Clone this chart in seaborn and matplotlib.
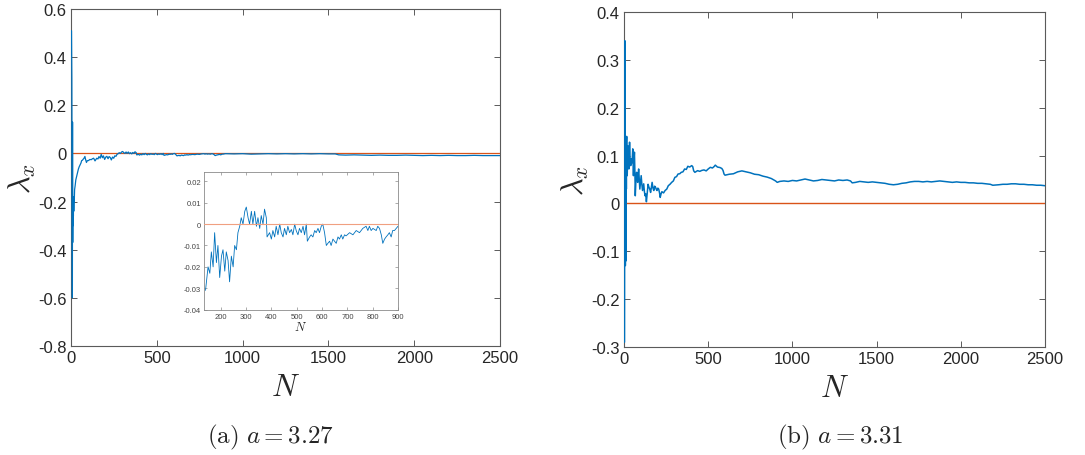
import numpy as np
import pandas as pd
import matplotlib
matplotlib.use("Agg")
import matplotlib.pyplot as plt
import seaborn as sns

# ---------------- data ----------------
# Panel (a): a = 3.27
n_a = [3, 5, 8, 9, 10, 11, 12, 13, 14, 15, 16, 17, 19, 21, 24, 28, 34, 38, 43, 48, 53, 58, 62, 67,
       71, 76, 81, 85, 90, 95, 100, 105, 110, 118, 125, 132,
       140, 150, 157, 163, 170, 176, 183, 189, 196, 203, 209, 216, 222, 229, 235, 242, 249,
       255, 262, 268, 275, 281, 288, 295, 301, 308, 314, 321, 327, 334, 341, 347, 354, 360,
       367, 373, 380, 383, 393, 400, 406, 413, 419, 426, 433, 439, 446, 452, 459, 465, 472,
       479, 485, 492, 498, 505, 511, 518, 525, 531, 538, 542, 551, 557, 564, 571, 577, 584,
       590, 597, 603, 610, 617, 623, 630, 636, 643, 656, 663, 669, 676, 682, 689, 695, 709,
       722, 735, 748, 761, 774, 781, 787, 794, 801, 814, 820, 827, 834, 840, 847, 853, 860,
       866, 873, 879, 886, 893, 900,
       950, 1000, 1050, 1100, 1150, 1200, 1250, 1300, 1350, 1400, 1450, 1500, 1540, 1560,
       1600, 1650, 1700, 1750, 1800, 1850, 1900, 1950, 2000, 2050, 2100, 2150, 2200, 2250,
       2300, 2350, 2400, 2450, 2500]
lam_a = [0.51, 0.31, -0.60, 0.13, -0.37, -0.20, -0.30, -0.22, -0.26, -0.19, -0.24, -0.18,
         -0.20, -0.15, -0.135, -0.11, -0.093, -0.08, -0.065, -0.055, -0.047, -0.040, -0.030,
         -0.028, -0.024, -0.020, -0.0125, -0.025, -0.0375, -0.030, -0.030, -0.028, -0.025,
         -0.026, -0.022, -0.020,
         -0.031, -0.020, -0.023, -0.013, -0.020, -0.004, -0.018, -0.010, -0.025, -0.015,
         -0.012, -0.022, -0.013, -0.017, -0.027, -0.015, -0.020, -0.010, -0.012, -0.004,
         -0.001, 0.003, 0.000, 0.006, 0.008, 0.003, 0.000, 0.006, 0.000, 0.006, -0.001,
         0.003, -0.002, 0.004, 0.000, 0.007, 0.003, -0.006, -0.004, -0.007, -0.003, -0.006,
         -0.001, -0.005, 0.000, -0.004, -0.006, -0.002, -0.005, -0.001, -0.004, -0.0025,
         -0.005, 0.000, -0.003, -0.005, -0.002, -0.004, -0.001, -0.005, 0.000, -0.008,
         -0.006, -0.005, -0.006, -0.003, -0.004, -0.002, -0.004, -0.001, 0.000, -0.004,
         -0.010, -0.009, -0.008, -0.010, -0.007, -0.009, -0.006, -0.007, -0.005, -0.007,
         -0.005, -0.0055, -0.004, -0.005, -0.003, -0.004, -0.002, -0.001, -0.003, -0.001,
         -0.003, -0.002, -0.003, -0.001, -0.002, -0.005, -0.009, -0.007, -0.006, -0.005,
         -0.004, -0.006, -0.003, -0.003, -0.002, -0.001,
         -0.002, -0.001, -0.003, -0.002, -0.001, -0.002, -0.001, -0.002, -0.001, -0.002,
         -0.001, -0.002, -0.002, -0.006, -0.007, -0.006, -0.007, -0.008, -0.007, -0.008,
         -0.008, -0.007, -0.008, -0.009, -0.008, -0.009, -0.008, -0.009, -0.009, -0.008,
         -0.009, -0.009, -0.009]

# Panel (b): a = 3.31
n_b = [3, 5, 8, 10, 11, 12, 13, 14, 15, 16, 17, 19, 22, 25, 29, 33, 36, 40, 44, 48, 52, 56, 59,
       62, 65, 67, 71, 75, 78, 81, 84, 87, 91, 94, 98, 102, 106, 110, 114, 117, 121, 125,
       129, 133, 136, 138, 143, 148, 153, 158, 163, 167, 172, 177, 182, 187, 191, 196, 201,
       206, 211, 215, 220, 225, 235, 244, 254, 263, 273, 283, 293, 302, 312, 321, 331, 340,
       350, 360, 370, 379, 390, 402, 408, 414, 421, 430, 437, 450, 462, 475, 488, 500, 513,
       525, 535, 542, 555, 570, 581, 588, 594,
       600, 625, 650, 675, 700, 725, 750, 775, 800, 825, 850, 875, 900, 910, 925, 950, 975,
       1000, 1025, 1050, 1075, 1100, 1125, 1150, 1175, 1200, 1225, 1250, 1275, 1300, 1325,
       1345, 1355, 1375, 1400, 1425, 1450, 1475, 1500, 1525, 1550, 1575, 1600, 1625, 1650,
       1675, 1700, 1725, 1750, 1775, 1800, 1825, 1850, 1875, 1900, 1925, 1950, 1975, 2000,
       2025, 2050, 2075, 2100, 2125, 2150, 2175, 2190, 2225, 2250, 2275, 2300, 2325, 2350,
       2375, 2400, 2425, 2450, 2475, 2500]
lam_b = [-0.29, 0.34, -0.13, 0.14, 0.05, -0.12, 0.10, 0.03, 0.13, 0.14, 0.09, 0.058, 0.10,
         0.12, 0.072, 0.128, 0.095, 0.079, 0.093, 0.085, 0.114, 0.058, 0.09, 0.107, 0.06,
         0.016, 0.05, 0.065, 0.055, 0.044, 0.06, 0.072, 0.05, 0.030, 0.045, 0.058, 0.04,
         0.027, 0.035, 0.041, 0.025, 0.016, 0.02, 0.0035, 0.015, 0.023, 0.04, 0.034, 0.03,
         0.023, 0.035, 0.044, 0.032, 0.027, 0.036, 0.034, 0.03, 0.027, 0.032, 0.030, 0.022,
         0.0126, 0.02, 0.0245, 0.022, 0.027, 0.030, 0.037, 0.040, 0.044, 0.047, 0.0545,
         0.056, 0.0615, 0.062, 0.065, 0.066, 0.072, 0.071, 0.0776, 0.076, 0.079, 0.077,
         0.068, 0.065, 0.067, 0.0685, 0.067, 0.069, 0.070, 0.068, 0.072, 0.0755, 0.074,
         0.077, 0.080, 0.076, 0.075, 0.073, 0.069, 0.0615,
         0.059, 0.061, 0.062, 0.066, 0.068, 0.066, 0.064, 0.061, 0.060, 0.057, 0.055, 0.052,
         0.047, 0.044, 0.046, 0.047, 0.046, 0.048, 0.047, 0.049, 0.051, 0.049, 0.047, 0.048,
         0.050, 0.049, 0.048, 0.047, 0.049, 0.048, 0.049, 0.047, 0.043, 0.044, 0.046, 0.045,
         0.044, 0.045, 0.044, 0.043, 0.042, 0.040, 0.039, 0.040, 0.042, 0.043, 0.045, 0.046,
         0.046, 0.045, 0.046, 0.045, 0.046, 0.047, 0.046, 0.045, 0.044, 0.045, 0.044, 0.044,
         0.043, 0.043, 0.042, 0.042, 0.041, 0.040, 0.038, 0.039, 0.040, 0.040, 0.041, 0.041,
         0.040, 0.040, 0.039, 0.039, 0.038, 0.038, 0.037]

x_ticks = [0, 500, 1000, 1500, 2000, 2500]
x_tick_labels = ["0", "500", "1000", "1500", "2000", "2500"]
ya_ticks = [-0.8, -0.6, -0.4, -0.2, 0, 0.2, 0.4, 0.6]
ya_tick_labels = ["-0.8", "-0.6", "-0.4", "-0.2", "0", "0.2", "0.4", "0.6"]
yb_ticks = [-0.3, -0.2, -0.1, 0, 0.1, 0.2, 0.3, 0.4]
yb_tick_labels = ["-0.3", "-0.2", "-0.1", "0", "0.1", "0.2", "0.3", "0.4"]
inset_x_ticks = [200, 300, 400, 500, 600, 700, 800, 900]
inset_x_tick_labels = ["200", "300", "400", "500", "600", "700", "800", "900"]
inset_y_ticks = [-0.04, -0.03, -0.02, -0.01, 0, 0.01, 0.02]
inset_y_tick_labels = ["-0.04", "-0.03", "-0.02", "-0.01", "0", "0.01", "0.02"]
captions = [r"$\mathrm{(a)}\ a=3.27$", r"$\mathrm{(b)}\ a=3.31$"]

# ---------------- style ----------------
sns.set_style("ticks", {"xtick.direction": "in", "ytick.direction": "in"})
plt.rcParams["font.family"] = ["Liberation Sans", "DejaVu Sans"]
plt.rcParams["mathtext.fontset"] = "cm"
plt.rcParams["axes.unicode_minus"] = False

BLUE = "#0072BD"
ORANGE = "#D95319"
DARK = "#262626"
SPINE = "#5a5a5a"

df_a = pd.DataFrame({"N": n_a, "lam": lam_a})
df_b = pd.DataFrame({"N": n_b, "lam": lam_b})

fig = plt.figure(figsize=(10.85, 4.56), dpi=100)
W, H = 1085, 456


def px_axes(x0, x1, y0, y1):
    return fig.add_axes([x0 / W, 1 - y1 / H, (x1 - x0) / W, (y1 - y0) / H])


def style_axes(ax, fs, length):
    for s in ax.spines.values():
        s.set_color(SPINE)
        s.set_linewidth(0.8)
    ax.tick_params(which="both", direction="in", top=True, right=True,
                   length=length, width=0.7, color=SPINE, labelcolor=DARK,
                   labelsize=fs, pad=3)


ax_a = px_axes(71, 500, 10, 347)
ax_b = px_axes(624, 1045, 13, 348)

# Panel (a)
sns.lineplot(data=df_a, x="N", y="lam", ax=ax_a, color=BLUE, linewidth=0.9,
             estimator=None, sort=False, zorder=4)
ax_a.axhline(0, color=ORANGE, linewidth=0.9, zorder=3)
ax_a.set_xlim(0, 2500)
ax_a.set_ylim(-0.8, 0.6)
ax_a.set_xticks(x_ticks)
ax_a.set_xticklabels(x_tick_labels)
ax_a.set_yticks(ya_ticks)
ax_a.set_yticklabels(ya_tick_labels)
style_axes(ax_a, 12, 4)
ax_a.set_xlabel(r"$N$", fontsize=22, labelpad=5)
ax_a.set_ylabel(r"$\lambda_x$", fontsize=22, labelpad=0)

# Panel (b)
sns.lineplot(data=df_b, x="N", y="lam", ax=ax_b, color=BLUE, linewidth=1.1,
             estimator=None, sort=False, zorder=4)
ax_b.axhline(0, color=ORANGE, linewidth=1.0, zorder=3)
ax_b.set_xlim(0, 2500)
ax_b.set_ylim(-0.3, 0.4)
ax_b.set_xticks(x_ticks)
ax_b.set_xticklabels(x_tick_labels)
ax_b.set_yticks(yb_ticks)
ax_b.set_yticklabels(yb_tick_labels)
style_axes(ax_b, 12, 4)
ax_b.set_xlabel(r"$N$", fontsize=22, labelpad=5)
ax_b.set_ylabel(r"$\lambda_x$", fontsize=22, labelpad=0)

# Inset of panel (a)
ax_in = px_axes(204, 398, 173, 311)
df_in = df_a[(df_a["N"] >= 134) & (df_a["N"] <= 900)]
sns.lineplot(data=df_in, x="N", y="lam", ax=ax_in, color=BLUE, linewidth=0.6,
             estimator=None, sort=False)
ax_in.axhline(0, color="#F0A080", linewidth=0.8, zorder=3)
ax_in.set_xlim(134, 900)
ax_in.set_ylim(-0.0402, 0.0244)
ax_in.set_xticks(inset_x_ticks)
ax_in.set_xticklabels(inset_x_tick_labels)
ax_in.set_yticks(inset_y_ticks)
ax_in.set_yticklabels(inset_y_tick_labels)
for s in ax_in.spines.values():
    s.set_color("#8a8a8a")
    s.set_linewidth(0.6)
ax_in.tick_params(which="both", direction="in", top=True, right=True, length=2,
                  width=0.5, color="#8a8a8a", labelcolor="#444444", labelsize=5.5, pad=2)
ax_in.set_xlabel(r"$N$", fontsize=9, labelpad=0)
ax_in.set_ylabel("")

# Captions
fig.text(270 / W, 1 - 437 / H, captions[0], ha="center", va="center", fontsize=18)
fig.text(840 / W, 1 - 437 / H, captions[1], ha="center", va="center", fontsize=18)

fig.savefig("out.png", dpi=100)
